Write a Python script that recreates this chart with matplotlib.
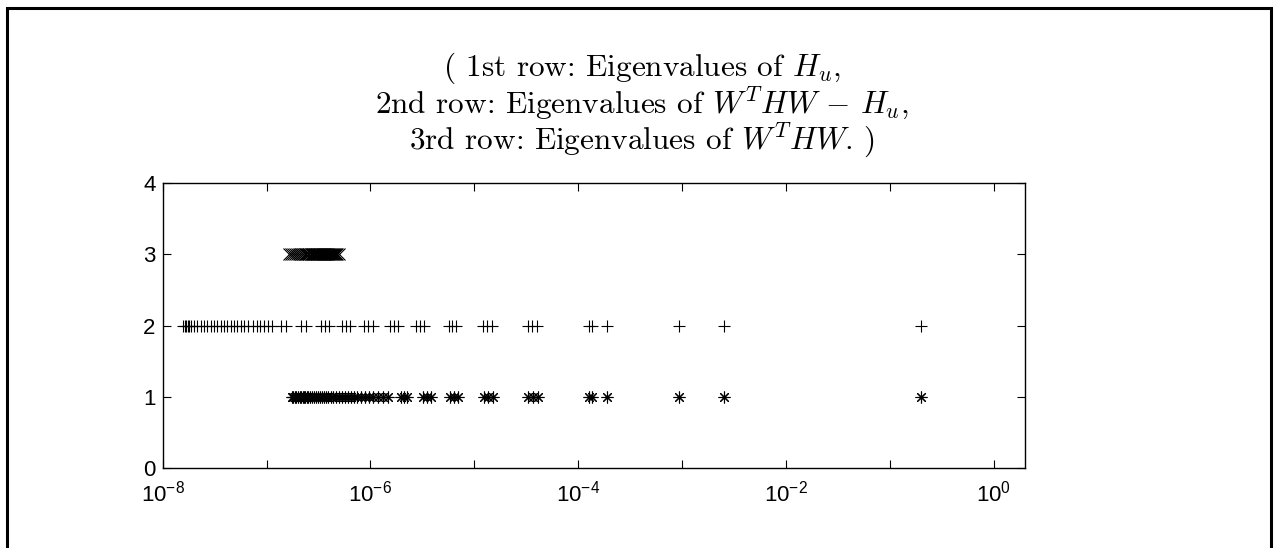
import numpy as np
import matplotlib
matplotlib.use("Agg")
import matplotlib.pyplot as plt
from matplotlib.ticker import FixedLocator, FuncFormatter, NullLocator
from matplotlib.lines import Line2D

# log10 of the eigenvalues shown on each row
hu_log10 = [
    -6.756, -6.741, -6.727, -6.712, -6.698, -6.683, -6.669, -6.654, -6.640,
    -6.626, -6.611, -6.597, -6.582, -6.563, -6.544, -6.525, -6.505, -6.486,
    -6.467, -6.448, -6.428, -6.404, -6.380, -6.356, -6.332, -6.303, -6.274,
    -6.245, -6.217, -6.188, -6.159, -6.130, -6.091, -6.053, -6.014, -5.976,
    -5.928, -5.880, -5.832, -5.706, -5.678, -5.649, -5.495, -5.456, -5.418,
    -5.235, -5.196, -5.158, -4.908, -4.869, -4.821, -4.484, -4.436, -4.388,
    -3.897, -3.868, -3.719, -3.031, -2.598, -0.702,
]
diff_log10 = [
    -7.805, -7.790, -7.776, -7.761, -7.747, -7.732, -7.699, -7.667, -7.631,
    -7.600, -7.571, -7.538, -7.506, -7.474, -7.442, -7.410, -7.378, -7.345,
    -7.314, -7.282, -7.249, -7.215, -7.176, -7.134, -7.095, -7.064, -7.025,
    -6.987, -6.948, -6.861, -6.813, -6.669, -6.621, -6.476, -6.438, -6.399,
    -6.274, -6.236, -6.197, -6.063, -6.024, -5.976, -5.812, -5.774, -5.735,
    -5.562, -5.524, -5.485, -5.244, -5.211, -5.177, -4.917, -4.874, -4.831,
    -4.484, -4.441, -4.398, -3.897, -3.868, -3.719, -3.031, -2.598, -0.702,
]
wthw_log10 = [
    -6.784, -6.765, -6.746, -6.727, -6.707, -6.688, -6.669, -6.650, -6.630,
    -6.616, -6.602, -6.587, -6.573, -6.563, -6.553, -6.544, -6.534, -6.525,
    -6.515, -6.505, -6.496, -6.486, -6.476, -6.467, -6.457, -6.448, -6.438,
    -6.428, -6.419, -6.409, -6.399, -6.390, -6.380, -6.371, -6.361, -6.351,
    -6.342, -6.332, -6.318, -6.303,
]
row_ids = [1, 2, 3]
y_ticks = [0, 1, 2, 3, 4]
x_decades = list(range(-8, 1))

title_lines = [
    r"( 1st row: Eigenvalues of $H_u$,",
    r"2nd row: Eigenvalues of $W^T HW \,-\, H_u$,",
    r"3rd row: Eigenvalues of $W^T HW$. )",
]

plt.rcParams["font.family"] = ["Liberation Sans", "DejaVu Sans"]
plt.rcParams["mathtext.fontset"] = "custom"
plt.rcParams["mathtext.rm"] = "Liberation Sans"
plt.rcParams["mathtext.it"] = "Liberation Sans:italic"
plt.rcParams["mathtext.bf"] = "Liberation Sans:bold"

fig = plt.figure(figsize=(12.74, 5.48), dpi=100)
ax = fig.add_axes([0.1277, 0.1454, 0.6769, 0.5212])

asterisk = (8, 2, 0)
series = [
    (hu_log10, row_ids[0], asterisk),
    (diff_log10, row_ids[1], "+"),
    (wthw_log10, row_ids[2], "x"),
]
for logs, row, mk in series:
    xs = 10.0 ** np.asarray(logs)
    ax.plot(xs, np.full(xs.shape, row), linestyle="none", marker=mk,
            markersize=8.5, markeredgewidth=0.8, color="black",
            markerfacecolor="none")

ax.set_xscale("log")
ax.set_xlim(1e-8, 2.0)
ax.set_ylim(0, 4)
ax.set_yticks(y_ticks)
ax.xaxis.set_major_locator(FixedLocator([10.0 ** d for d in x_decades]))
ax.xaxis.set_minor_locator(NullLocator())
ax.xaxis.set_major_formatter(FuncFormatter(
    lambda v, pos: (r"$\mathdefault{10^{%d}}$" % round(np.log10(v)))
    if round(np.log10(v)) % 2 == 0 else ""))
ax.tick_params(axis="both", which="major", direction="in", length=5.5,
               width=0.8, top=True, right=True, labelsize=16,
               color="black")
ax.tick_params(axis="x", pad=9)
ax.tick_params(axis="y", pad=5)
for s in ax.spines.values():
    s.set_linewidth(1.0)

# three-line title, one baseline per line
for line, base_px in zip(title_lines, [76, 113, 149]):
    fig.text(0.504, 1 - base_px / 548, line, ha="center", va="baseline",
             fontfamily="cmr10", math_fontfamily="cm", fontsize=22.5)

# open frame around the figure
frame = Line2D([7 / 1274, 7 / 1274, 1271 / 1274, 1271 / 1274],
               [-0.05, 1 - 8 / 548, 1 - 8 / 548, -0.05],
               transform=fig.transFigure, color="black", linewidth=2.2,
               solid_joinstyle="miter")
fig.add_artist(frame)

fig.savefig("out.png", dpi=100, facecolor="white")
